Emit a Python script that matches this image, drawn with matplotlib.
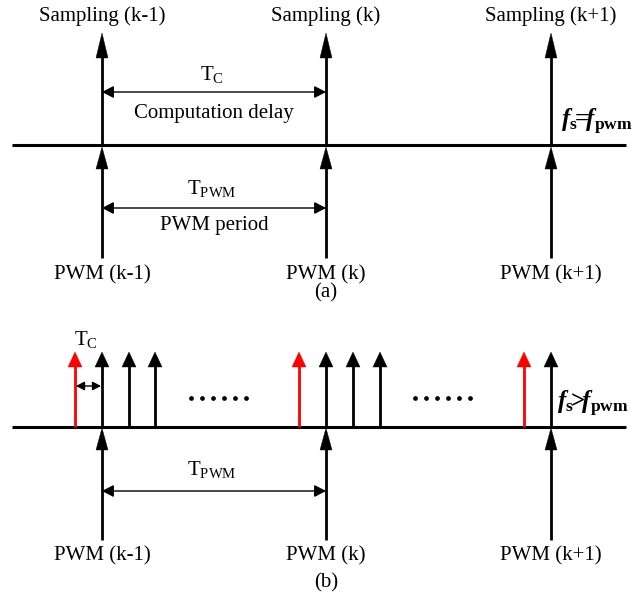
import numpy as np
import matplotlib
matplotlib.use("Agg")
import matplotlib.pyplot as plt
from matplotlib.patches import Polygon, FancyArrowPatch

plt.rcParams['font.family'] = ['Liberation Serif', 'DejaVu Serif']
plt.rcParams['mathtext.fontset'] = 'custom'
plt.rcParams['mathtext.rm'] = 'Liberation Serif:bold'
plt.rcParams['mathtext.it'] = 'Liberation Serif:italic:bold'
plt.rcParams['mathtext.bf'] = 'Liberation Serif:bold'

# ---- diagram content ----
pwm_x = [102, 326, 551]
pwm_labels = ["PWM (k-1)", "PWM (k)", "PWM (k+1)"]
sampling_labels = ["Sampling (k-1)", "Sampling (k)", "Sampling (k+1)"]
red_x = [75, 299, 524]
extra_sampling_x = [129, 155, 353, 380]
dots_ranges = [(191, 246), (415, 470)]
panel_labels = ["(a)", "(b)"]

W, H = 642, 598
fig = plt.figure(figsize=(W / 100, H / 100), dpi=100)
ax = fig.add_axes([0, 0, 1, 1])
ax.set_xlim(0, W)
ax.set_ylim(H, 0)
ax.axis('off')

FS = 15
LW = 2.0


def arrow(x, y0, y1, hl, hw, color='black'):
    # y0 = base, y1 = tip (tip above base; y axis inverted)
    ax.plot([x, x], [y0, y1 + hl * 0.8], color=color, lw=LW, solid_capstyle='butt', zorder=3)
    ax.add_patch(Polygon([[x - hw / 2, y1 + hl], [x + hw / 2, y1 + hl], [x, y1]],
                         closed=True, facecolor=color, edgecolor=color, lw=0.3, zorder=4))


def darrow(x0, x1, y, scale=1.4):
    ax.add_patch(FancyArrowPatch((x0, y), (x1, y), arrowstyle='<|-|>,head_length=5,head_width=2.6',
                                 mutation_scale=scale, lw=1.0, color='black', shrinkA=0, shrinkB=0, zorder=5))


def mtext(x, y, s, **kw):
    ax.text(x, y, s, fontsize=FS, ha='center', va='baseline', **kw)


# ---------- panel (a) ----------
ya = 145
ax.plot([12, 626], [ya, ya], color='black', lw=2.2, solid_capstyle='butt')
for x, sl, pl in zip(pwm_x, sampling_labels, pwm_labels):
    arrow(x, ya, 33, 25, 12)
    arrow(x, 258, 147, 22, 12)
    mtext(x, 21, sl)
    mtext(x, 279, pl)
mtext(212, 80, r'T$_{\mathregular{C}}$')
darrow(pwm_x[0], pwm_x[1], 92)
mtext(214, 118, 'Computation delay')
mtext(212, 194, r'T$_{\mathregular{PWM}}$')
darrow(pwm_x[0], pwm_x[1], 208)
mtext(214, 230, 'PWM period')
mtext(pwm_x[1], 297, panel_labels[0])
ax.text(561, 127, r'$\mathit{f}_{\mathbf{s}}\!\!=\!\!\mathit{f}_{\mathbf{pwm}}$', fontsize=18,
        ha='left', va='baseline')

# ---------- panel (b) ----------
yb = 427
ax.plot([12, 626], [yb, yb], color='black', lw=2.2, solid_capstyle='butt')
for x in red_x:
    arrow(x, yb, 352, 15, 14, color='#ff0000')
for x in pwm_x + extra_sampling_x:
    arrow(x, yb, 352, 15, 14)
for x, pl in zip(pwm_x, pwm_labels):
    arrow(x, 540, 428, 22, 12)
    mtext(x, 560, pl)
mtext(86, 345, r'T$_{\mathregular{C}}$')
darrow(red_x[0] + 1, pwm_x[0] - 1, 386, scale=1.0)
for a, b in dots_ranges:
    xs = np.linspace(a, b, 6)
    ax.plot(xs, [398] * 6, 'o', color='black', ms=3.4, mew=0)
mtext(212, 475, r'T$_{\mathregular{PWM}}$')
darrow(pwm_x[0], pwm_x[1], 491)
mtext(pwm_x[1], 587, panel_labels[1])
ax.text(557, 409, r'$\mathit{f}_{\mathbf{s}}\!\!>\!\!\mathit{f}_{\mathbf{pwm}}$', fontsize=18,
        ha='left', va='baseline')

fig.savefig('out.png', dpi=100)
